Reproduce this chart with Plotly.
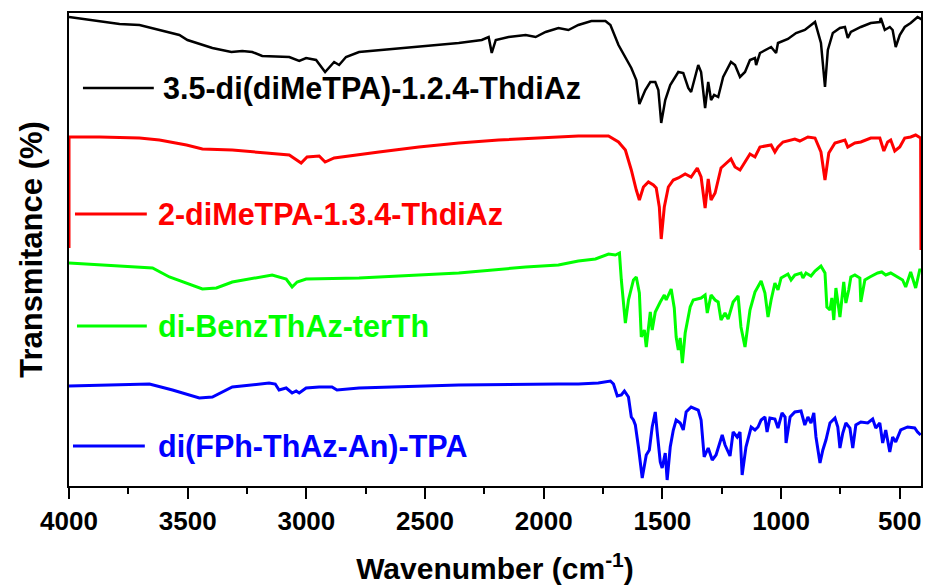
import plotly.graph_objects as go

# FTIR spectra, offset vertically (arbitrary transmittance units)
names = ["3.5-di(diMeTPA)-1.2.4-ThdiAz", "2-diMeTPA-1.3.4-ThdiAz",
         "di-BenzThAz-terTh", "di(FPh-ThAz-An)-TPA"]
colors = ["#000000", "#ff0000", "#00ff00", "#0000ff"]

wn_black = [4000, 3787, 3703, 3619, 3535, 3501, 3463, 3396, 3316, 3270, 3228, 3186, 3072, 3030,
            3001, 2959, 2921, 2883, 2862, 2833, 2778, 2640, 2497, 2358, 2261, 2232, 2219, 2202,
            2148, 2076, 2034, 1992, 1938, 1896, 1854, 1799, 1740, 1719, 1685, 1631, 1610, 1597,
            1572, 1551, 1530, 1517, 1505, 1488, 1467, 1433, 1412, 1391, 1379, 1349, 1337, 1320,
            1307, 1295, 1282, 1265, 1244, 1211, 1194, 1173, 1152, 1131, 1110, 1105, 1089, 1042,
            1021, 1013, 971, 937, 900, 857, 832, 815, 803, 782, 752, 731, 719, 706, 664, 622,
            584, 580, 563, 542, 530, 517, 500, 479, 454, 425, 404]
t_black = [469, 462, 461, 456, 451, 446, 443, 438, 434, 435, 434, 430, 429, 425,
           428, 426, 414, 424, 421, 429, 434, 437, 440, 443, 446, 449, 433, 446,
           449, 451, 449, 454, 458, 456, 461, 465, 465, 461, 441, 418, 406, 382,
           396, 404, 404, 396, 363, 386, 401, 414, 413, 398, 394, 421, 414, 378,
           404, 386, 391, 389, 409, 424, 421, 409, 414, 426, 428, 421, 433, 439,
           433, 443, 447, 453, 456, 464, 443, 399, 436, 453, 458, 459, 448, 454, 459, 463,
           464, 468, 456, 459, 456, 439, 451, 459, 463, 469, 466]

wn_red = [4000, 4000, 3871, 3703, 3619, 3505, 3438, 3312, 3169, 3072, 3022, 2997, 2946, 2921,
          2883, 2799, 2694, 2526, 2358, 2190, 2022, 1896, 1854, 1727, 1685, 1656, 1631, 1610,
          1597, 1580, 1559, 1538, 1526, 1513, 1505, 1492, 1475, 1454, 1433, 1404, 1379, 1353,
          1337, 1320, 1307, 1295, 1278, 1253, 1211, 1194, 1173, 1152, 1131, 1110, 1089, 1042,
          1026, 1013, 992, 942, 921, 887, 857, 832, 815, 799, 773, 731, 719, 689, 664, 622,
          584, 567, 551, 538, 521, 500, 479, 454, 433, 412, 410.6]
t_red = [238, 349, 349, 348, 346, 341, 337, 336, 333, 331, 323, 329, 330, 324,
         328, 331, 334, 339, 343, 346, 348, 349, 350, 350, 344, 336, 316, 296,
         286, 299, 304, 301, 298, 279, 247, 279, 299, 306, 308, 312, 309, 318,
         309, 278, 307, 286, 293, 318, 327, 319, 316, 324, 332, 329, 339, 341,
         334, 339, 344, 347, 345, 349, 348, 334, 306, 333, 343, 346, 339, 343, 344, 348,
         348, 335, 344, 346, 335, 339, 348, 349, 351, 348, 236]

wn_green = [4000, 3648, 3577, 3438, 3379, 3312, 3144, 3085, 3060, 3039, 3001, 2778, 2358, 2076,
            1938, 1854, 1782, 1727, 1698, 1681, 1673, 1656, 1643, 1622, 1610, 1597, 1589, 1576,
            1568, 1551, 1543, 1530, 1509, 1492, 1484, 1463, 1450, 1442, 1433, 1425, 1416, 1404,
            1383, 1370, 1337, 1320, 1311, 1295, 1278, 1265, 1253, 1236, 1223, 1202, 1181, 1169,
            1152, 1131, 1110, 1084, 1068, 1055, 1042, 1026, 1013, 1000, 971, 958, 942, 916, 908,
            895, 874, 857, 832, 815, 807, 794, 786, 778, 769, 752, 736, 727, 715, 706, 689, 668,
            664, 647, 626, 593, 576, 559, 538, 509, 488, 475, 454, 433, 416, 404]
t_green = [223, 218, 209, 197, 198, 204, 211, 207, 199, 204, 207, 208, 213, 219,
           221, 225, 227, 232, 231, 233, 206, 163, 186, 206, 209, 193, 149, 156,
           139, 174, 156, 174, 184, 191, 186, 197, 178, 149, 136, 148, 123, 153,
           179, 186, 188, 191, 173, 191, 186, 184, 166, 173, 167, 184, 190, 159,
           139, 176, 194, 205, 193, 169, 186, 203, 196, 208, 212, 206, 211, 213, 208,
           213, 210, 215, 220, 213, 179, 176, 188, 166, 198, 169, 204, 183, 196, 209, 211, 208,
           184, 206, 209, 213, 214, 211, 213, 209, 206, 199, 214, 198, 216, 216]

wn_blue = [4000, 3661, 3564, 3451, 3396, 3312, 3157, 3131, 3115, 3085, 3060, 3043, 3030, 3001,
           2946, 2892, 2871, 2778, 2640, 2358, 1938, 1854, 1770, 1719, 1706, 1690, 1673, 1660,
           1643, 1631, 1622, 1614, 1601, 1585, 1568, 1555, 1543, 1530, 1522, 1509, 1501, 1488,
           1480, 1467, 1454, 1442, 1425, 1412, 1400, 1379, 1349, 1337, 1324, 1307, 1290, 1274,
           1248, 1236, 1215, 1202, 1185, 1173, 1164, 1148, 1126, 1110, 1097, 1084, 1068, 1059,
           1047, 1026, 1013, 996, 983, 979, 962, 942, 916, 900, 887, 874, 862, 853, 836, 824,
           811, 794, 773, 761, 752, 740, 727, 710, 698, 685, 664, 635, 614, 601, 584, 572, 559,
           542, 530, 517, 496, 467, 437, 425, 412]
t_blue = [100, 102, 96, 88, 89, 99, 103, 102, 96, 98, 93, 95, 93, 98,
          99, 99, 96, 98, 99, 101, 102, 102, 103, 105, 102, 90, 91, 95,
          89, 69, 66, 61, 39, 8, 31, 36, 59, 74, 54, 24, 18, 33,
          6, 39, 56, 66, 63, 56, 74, 79, 76, 66, 29, 38, 26, 31,
          51, 41, 30, 54, 49, 54, 11, 39, 59, 56, 59, 66, 69, 54,
          68, 67, 58, 73, 69, 43, 69, 74, 75, 61, 69, 63, 73, 49, 23, 36,
          46, 63, 68, 59, 38, 53, 63, 58, 38, 61, 64, 63, 67, 58, 63, 43, 56,
          34, 49, 44, 56, 59, 58, 54, 51]

series = [(wn_black, t_black), (wn_red, t_red), (wn_green, t_green), (wn_blue, t_blue)]
widths = [2.5, 3.0, 3.0, 3.0]

font_family = "Liberation Sans, Arial, sans-serif"

fig = go.Figure()
for (x, y), name, c, w in zip(series, names, colors, widths):
    fig.add_trace(go.Scatter(x=x, y=y, mode="lines", name=name,
                             line=dict(color=c, width=w), showlegend=False))

W, H = 925, 587
L, R, T, B = 69, 2, 13, 101
pw, ph = W - L - R, H - T - B


def px_x(p):
    return (p - L) / pw


def px_y(p):
    return 1 - (p - T) / ph


# in-plot labels: a short line sample followed by the series name
label_rows = [(83, 154, 88, 161), (75, 147, 214, 156), (77, 147, 326, 156), (73, 145, 446, 156)]
shapes, annotations = [], []
for (x0, x1, yy, xt), name, c, w in zip(label_rows, names, colors, widths):
    shapes.append(dict(type="line", xref="paper", yref="paper",
                       x0=px_x(x0), x1=px_x(x1), y0=px_y(yy), y1=px_y(yy),
                       line=dict(color=c, width=w)))
    annotations.append(dict(text=name, xref="paper", yref="paper", x=px_x(xt), y=px_y(yy),
                            xanchor="left", yanchor="middle", showarrow=False,
                            font=dict(family=font_family, size=30.5, color=c, weight="bold")))

fig.update_layout(
    width=W, height=H,
    margin=dict(l=L, r=R, t=T, b=B),
    paper_bgcolor="white", plot_bgcolor="white",
    shapes=shapes, annotations=annotations,
    xaxis=dict(range=[4000, 410.5], tickmode="linear", tick0=500, dtick=500,
               ticks="outside", ticklen=11, tickwidth=2, tickcolor="black",
               minor=dict(ticks="outside", ticklen=6, tickwidth=2, dtick=250, tick0=500,
                          tickcolor="black"),
               showline=True, linewidth=2, linecolor="black", mirror=True,
               showgrid=False, zeroline=False, layer="below traces",
               tickfont=dict(family=font_family, size=26, color="black", weight="bold"),
               title=dict(text="Wavenumber (cm<sup>-1</sup>)", standoff=23,
                          font=dict(family=font_family, size=30, color="black", weight="bold"))),
    yaxis=dict(range=[0, 473], showticklabels=False, ticks="",
               showline=True, linewidth=2, linecolor="black", mirror=True,
               showgrid=False, zeroline=False, layer="below traces",
               title=dict(text="Transmitance (%)", standoff=15,
                          font=dict(family=font_family, size=31, color="black", weight="bold"))),
)

fig.write_html("out.html")
